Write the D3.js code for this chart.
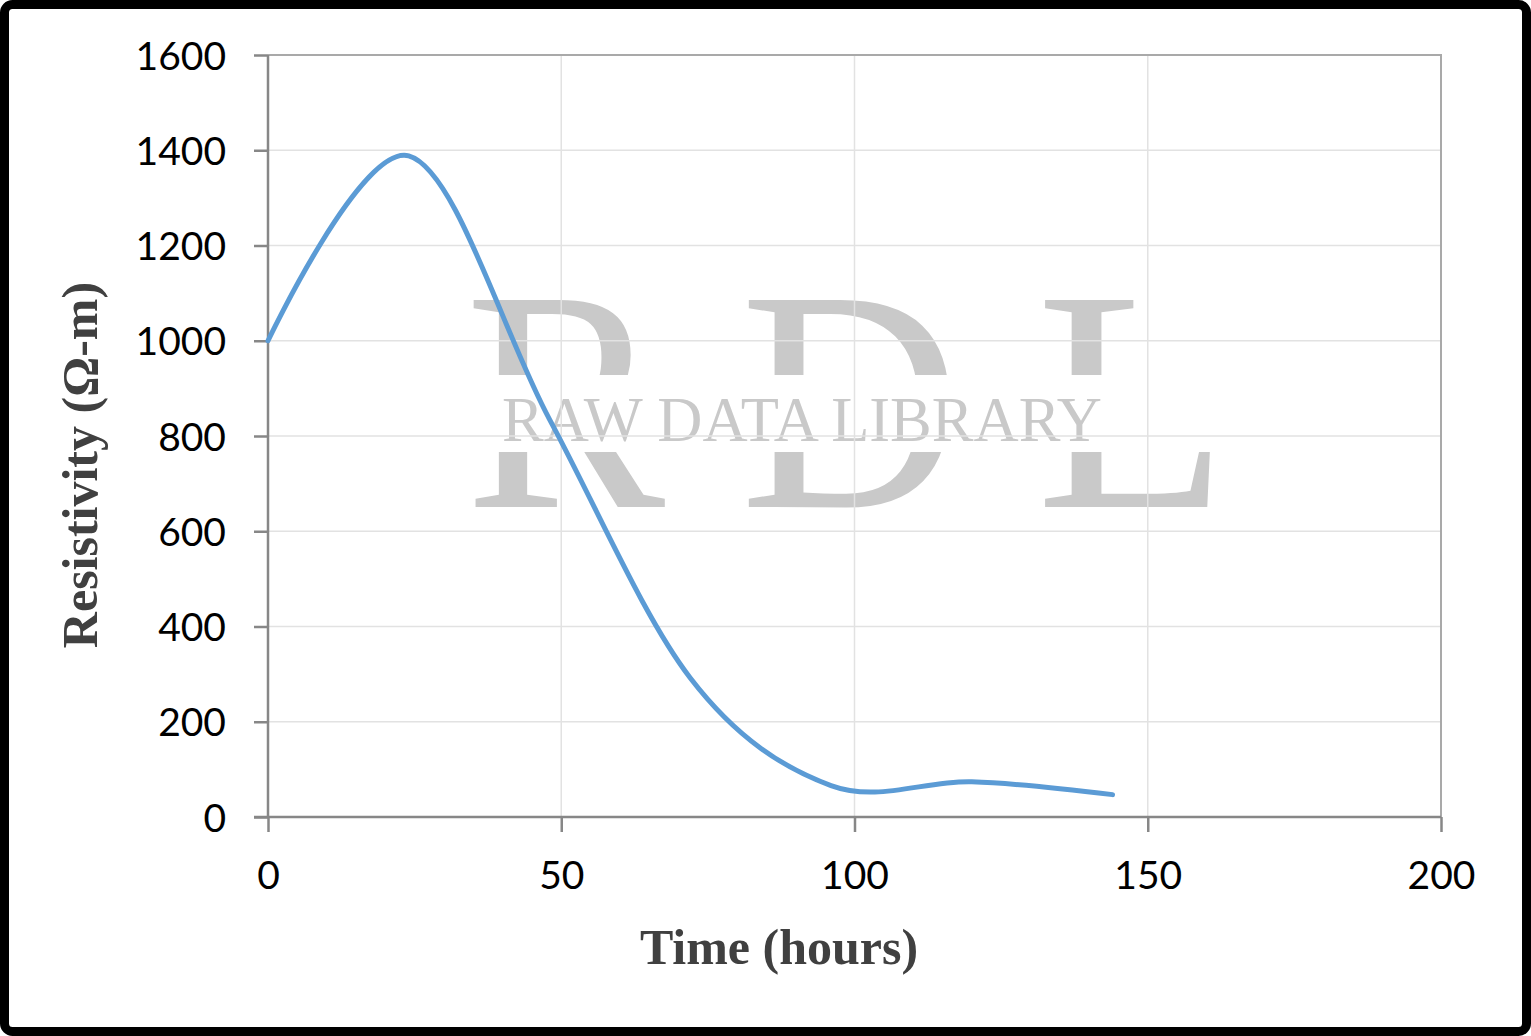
<!DOCTYPE html>
<html>
<head>
<meta charset="utf-8">
<script src="https://cdn.jsdelivr.net/npm/d3@7"></script>
<style>
  html, body { margin: 0; padding: 0; background: #fff; }
  svg { display: block; }
</style>
</head>
<body>
<svg id="chart" width="1531" height="1036"></svg>
<script>
// ---- data ----
const timeHours = [0, 24, 48, 72, 96, 120, 144];
const resistivity = [1000, 1388, 835, 292, 66, 74, 47];
const xTicks = [0, 50, 100, 150, 200];
const yTicks = [0, 200, 400, 600, 800, 1000, 1200, 1400, 1600];
const xTitle = "Time (hours)";
const yTitle = "Resistivity (\u03A9-m)";
const watermarkLetters = ["R", "D", "L"];
const watermarkText = "RAW DATA LIBRARY";

const W = 1531, H = 1036;
const m = { left: 268, right: W - 1441, top: 55, bottom: H - 817 };
const svg = d3.select("#chart");

// outer frame
svg.append("rect").attr("x", 4.5).attr("y", 4.5).attr("width", W - 9).attr("height", H - 9)
  .attr("rx", 8).attr("fill", "#fff").attr("stroke", "#000").attr("stroke-width", 9);

const x = d3.scaleLinear().domain([0, 200]).range([m.left, W - m.right]);
const y = d3.scaleLinear().domain([0, 1600]).range([H - m.bottom, m.top]);

// watermark
const defs = svg.append("defs");
const cp = defs.append("clipPath").attr("id", "wmclip");
cp.append("rect").attr("x", 0).attr("y", 0).attr("width", W).attr("height", 375);
cp.append("rect").attr("x", 0).attr("y", 452).attr("width", W).attr("height", H - 452);
const wm = svg.append("g").attr("clip-path", "url(#wmclip)");
const letterX = [465, 740, 1036];
const letterSX = [0.95, 0.97, 1.0];
wm.selectAll("text.big").data(watermarkLetters).join("text")
  .attr("class", "big")
  .attr("transform", (d, i) => `translate(${letterX[i]},507) scale(${letterSX[i]},1)`)
  .attr("font-family", "Liberation Serif, Times New Roman, serif")
  .attr("font-size", 316)
  .attr("fill", "#c9c9c9")
  .text(d => d);
svg.append("text")
  .attr("x", 502).attr("y", 441)
  .attr("font-family", "Liberation Serif, Times New Roman, serif")
  .attr("font-size", 64)
  .attr("fill", "#c9c9c9")
  .attr("textLength", 600).attr("lengthAdjust", "spacingAndGlyphs")
  .text(watermarkText);

// gridlines
svg.append("g").selectAll("line").data(yTicks.filter(d => d > 0 && d < 1600)).join("line")
  .attr("x1", x(0)).attr("x2", x(200)).attr("y1", d => y(d)).attr("y2", d => y(d))
  .attr("stroke", "#e2e2e2").attr("stroke-width", 1.5);
svg.append("g").selectAll("line").data(xTicks.filter(d => d > 0 && d < 200)).join("line")
  .attr("y1", y(0)).attr("y2", y(1600)).attr("x1", d => x(d)).attr("x2", d => x(d))
  .attr("stroke", "#e2e2e2").attr("stroke-width", 1.5);

// plot border (top/right)
svg.append("path")
  .attr("d", `M${x(0)},${y(1600)}H${x(200)}V${y(0)}`)
  .attr("fill", "none").attr("stroke", "#a9a9a9").attr("stroke-width", 2);

// axes
const xAxis = d3.axisBottom(x).tickValues(xTicks).tickSize(15).tickPadding(29).tickFormat(d3.format("d"));
const yAxis = d3.axisLeft(y).tickValues(yTicks).tickSize(14).tickPadding(28).tickFormat(d3.format("d"));
const gx = svg.append("g").attr("transform", `translate(0,${y(0)})`).call(xAxis);
const gy = svg.append("g").attr("transform", `translate(${x(0)},0)`).call(yAxis);
[gx, gy].forEach(g => {
  g.select(".domain").attr("stroke", "#878787").attr("stroke-width", 2.5);
  g.selectAll(".tick line").attr("stroke", "#878787").attr("stroke-width", 2.5);
  g.selectAll(".tick text").attr("fill", "#000")
    .attr("font-family", "Lato, Open Sans, sans-serif").attr("font-size", 39);
});
gx.select(".domain").attr("d", `M${x(0) - 14},0H${x(200)}`);
gy.select(".domain").attr("d", `M0,${y(0)}V${y(1600)}`);
gx.selectAll(".tick text").attr("dy", "0.71em");
gy.selectAll(".tick text").attr("dy", "0.36em");

// line
const line = d3.line().x(d => x(d[0])).y(d => y(d[1])).curve(d3.curveCatmullRom.alpha(0));
svg.append("path")
  .datum(timeHours.map((t, i) => [t, resistivity[i]]))
  .attr("d", line)
  .attr("fill", "none").attr("stroke", "#5b9bd5").attr("stroke-width", 5)
  .attr("stroke-linecap", "round").attr("stroke-linejoin", "round");

// axis titles
svg.append("text")
  .attr("x", 779).attr("y", 964).attr("text-anchor", "middle")
  .attr("font-family", "Liberation Serif, Times New Roman, serif")
  .attr("font-weight", "bold").attr("font-size", 50).attr("fill", "#404040")
  .text(xTitle);
svg.append("text")
  .attr("transform", "translate(97,465) rotate(-90)").attr("text-anchor", "middle")
  .attr("font-family", "Liberation Serif, Times New Roman, serif")
  .attr("font-weight", "bold").attr("font-size", 50).attr("fill", "#404040")
  .text(yTitle);
</script>
</body>
</html>
